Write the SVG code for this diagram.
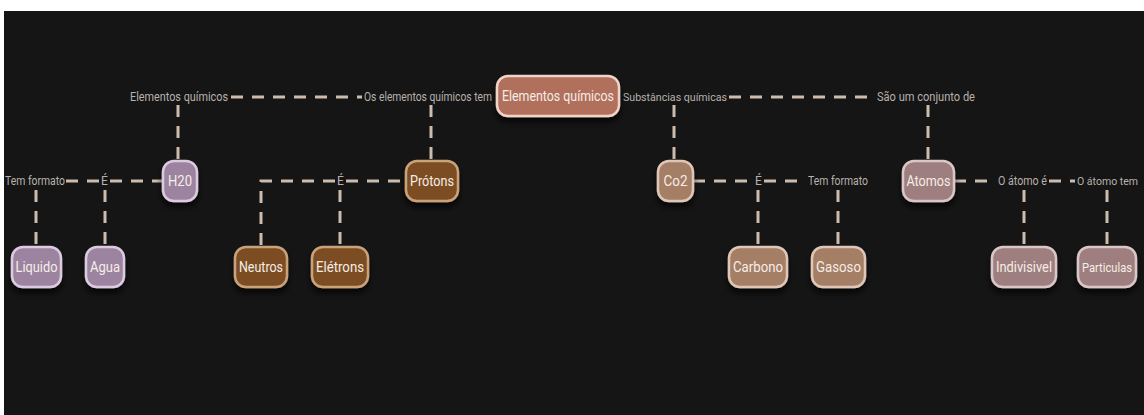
<svg xmlns="http://www.w3.org/2000/svg" width="1144" height="415" viewBox="0 0 1144 415">
<defs>
<filter id="sh" x="-20%" y="-20%" width="140%" height="160%"><feDropShadow dx="0" dy="5" stdDeviation="3" flood-color="#000" flood-opacity="0.7"/></filter>
<style>
.n rect{stroke-width:2.5;filter:url(#sh)}
.n text{font-family:Roboto,"Liberation Sans",sans-serif;font-size:15px;fill:#f6ede7;text-anchor:middle;dominant-baseline:central}
.root rect{fill:#b0705c;stroke:#f0d4c8}
.pur rect{fill:#9c84a0;stroke:#dccbe0}
.brn rect{fill:#7b4e22;stroke:#c9a27a}
.tan rect{fill:#a57e66;stroke:#dfc6b6}
.ros rect{fill:#9e7e7e;stroke:#dac6c6}
.c line,.c path{stroke:#cbbcae;stroke-width:3;stroke-dasharray:12 9;fill:none}
.l{font-family:Roboto,"Liberation Sans",sans-serif;font-size:12px;fill:#b9b1ab;dominant-baseline:central}
</style>
</defs>
<rect x="0" y="0" width="1144" height="415" fill="#ffffff"/>
<rect x="4" y="11" width="1140" height="404" fill="#151515"/>
<g id="connectors" class="c">
<line x1="231" y1="97" x2="362" y2="97"/>
<line x1="729" y1="97" x2="876" y2="97"/>
<line x1="178" y1="105" x2="178" y2="160"/>
<line x1="431" y1="105" x2="431" y2="160"/>
<line x1="674" y1="105" x2="674" y2="160"/>
<line x1="928" y1="105" x2="928" y2="160"/>
<line x1="66" y1="181" x2="99" y2="181"/>
<line x1="110" y1="181" x2="163" y2="181"/>
<line x1="36" y1="190" x2="36" y2="246"/>
<line x1="105" y1="190" x2="105" y2="246"/>
<path d="M335 181 H261 V246"/>
<line x1="346" y1="181" x2="405" y2="181"/>
<line x1="340" y1="190" x2="340" y2="246"/>
<line x1="693" y1="181" x2="753" y2="181"/>
<line x1="764" y1="181" x2="806" y2="181"/>
<line x1="758" y1="190" x2="758" y2="246"/>
<line x1="838" y1="190" x2="838" y2="246"/>
<line x1="954" y1="181" x2="996" y2="181"/>
<line x1="1049" y1="181" x2="1075" y2="181"/>
<line x1="1024" y1="190" x2="1024" y2="246"/>
<line x1="1107" y1="190" x2="1107" y2="246"/>
</g>
<g id="labels">
<text class="l" x="130" y="97" textLength="98" lengthAdjust="spacingAndGlyphs">Elementos químicos</text>
<text class="l" x="364" y="97" textLength="128" lengthAdjust="spacingAndGlyphs">Os elementos químicos tem</text>
<text class="l" x="623" y="97" style="font-size:11px" textLength="104" lengthAdjust="spacingAndGlyphs">Substâncias químicas</text>
<text class="l" x="877" y="97" textLength="98" lengthAdjust="spacingAndGlyphs">São um conjunto de</text>
<text class="l" x="5" y="181" textLength="60" lengthAdjust="spacingAndGlyphs">Tem formato</text>
<text class="l" x="101" y="181">É</text>
<text class="l" x="337" y="181">É</text>
<text class="l" x="755" y="181">É</text>
<text class="l" x="808" y="181" textLength="60" lengthAdjust="spacingAndGlyphs">Tem formato</text>
<text class="l" x="998" y="181" textLength="49" lengthAdjust="spacingAndGlyphs">O átomo é</text>
<text class="l" x="1077" y="181" style="font-size:11px" textLength="61" lengthAdjust="spacingAndGlyphs">O átomo tem</text>
</g>
<g id="n-root" class="n root"><rect x="497" y="76" width="122" height="40" rx="11"/><text x="558" y="96" style="font-size:14px" textLength="112" lengthAdjust="spacingAndGlyphs">Elementos químicos</text></g>
<g id="n-h20" class="n pur"><rect x="163" y="161" width="34" height="40" rx="11"/><text x="180" y="181" textLength="24" lengthAdjust="spacingAndGlyphs">H20</text></g>
<g id="n-protons" class="n brn"><rect x="406" y="161" width="52" height="40" rx="11"/><text x="432" y="181" textLength="44" lengthAdjust="spacingAndGlyphs">Prótons</text></g>
<g id="n-co2" class="n tan"><rect x="658" y="161" width="35" height="40" rx="11"/><text x="675.5" y="181" textLength="24" lengthAdjust="spacingAndGlyphs">Co2</text></g>
<g id="n-atomos" class="n ros"><rect x="903" y="161" width="51" height="40" rx="11"/><text x="928.5" y="181" textLength="44" lengthAdjust="spacingAndGlyphs">Atomos</text></g>
<g id="n-liquido" class="n pur"><rect x="12" y="247" width="49" height="40" rx="11"/><text x="36.5" y="267" textLength="42" lengthAdjust="spacingAndGlyphs">Liquido</text></g>
<g id="n-agua" class="n pur"><rect x="86" y="247" width="38" height="40" rx="11"/><text x="105" y="267" textLength="30" lengthAdjust="spacingAndGlyphs">Agua</text></g>
<g id="n-neutros" class="n brn"><rect x="235" y="247" width="52" height="40" rx="11"/><text x="261" y="267" textLength="44" lengthAdjust="spacingAndGlyphs">Neutros</text></g>
<g id="n-eletrons" class="n brn"><rect x="312" y="247" width="56" height="40" rx="11"/><text x="340" y="267" textLength="48" lengthAdjust="spacingAndGlyphs">Elétrons</text></g>
<g id="n-carbono" class="n tan"><rect x="729" y="247" width="58" height="40" rx="11"/><text x="758" y="267" textLength="50" lengthAdjust="spacingAndGlyphs">Carbono</text></g>
<g id="n-gasoso" class="n tan"><rect x="812" y="247" width="53" height="40" rx="11"/><text x="838.5" y="267" textLength="45" lengthAdjust="spacingAndGlyphs">Gasoso</text></g>
<g id="n-indivisivel" class="n ros"><rect x="992" y="247" width="64" height="40" rx="11"/><text x="1024" y="267" textLength="56" lengthAdjust="spacingAndGlyphs">Indivisivel</text></g>
<g id="n-particulas" class="n ros"><rect x="1078" y="247" width="58" height="40" rx="11"/><text x="1107" y="267" style="font-size:13px" textLength="50" lengthAdjust="spacingAndGlyphs">Particulas</text></g>
</svg>
